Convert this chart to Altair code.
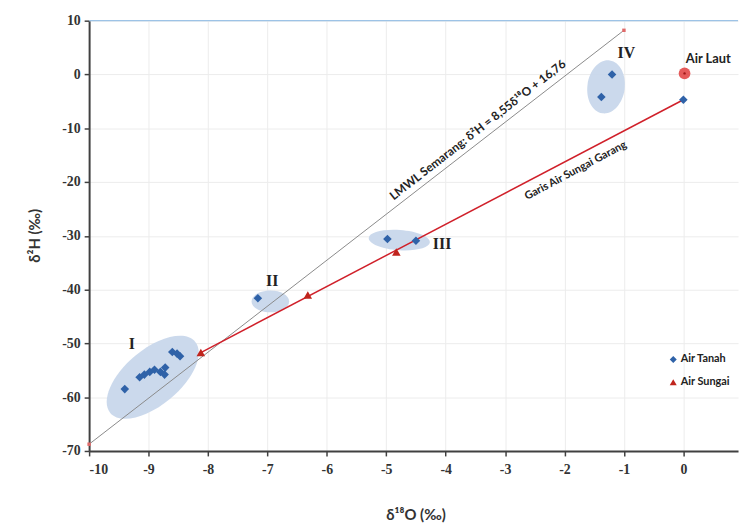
import altair as alt
import pandas as pd

# ---- data ----
tanah_x = [-9.40, -9.15, -9.07, -8.98, -8.90, -8.80, -8.73, -8.72, -8.60, -8.52, -8.47,
           -7.16, -4.98, -4.50, -1.38, -1.20, 0.0]
tanah_y = [-58.5, -56.3, -55.8, -55.3, -54.9, -55.3, -55.8, -54.5, -51.6, -51.9, -52.4,
           -41.6, -30.6, -30.9, -4.2, 0.0, -4.7]
sungai_x = [-8.12, -6.32, -4.83]
sungai_y = [-51.7, -41.0, -33.0]

lmwl_x = [-10.0, -1.0]
lmwl_y = [-68.74, 8.21]
garang_x = [-8.12, 0.0]
garang_y = [-51.7, -4.7]

laut_x = [0.02]
laut_y = [0.2]

# ellipses: centre x, centre y, semi-major px, minor/major ratio, angle
ell_names = ["I", "II", "III", "IV"]
ell_cx = [-8.93, -6.95, -4.78, -1.30]
ell_cy = [-56.3, -42.2, -30.8, -2.3]
ell_a = [56, 19, 31, 27]
ell_ratio = [0.50, 0.58, 0.33, 0.70]
ell_angle = [320, 0, 4, 98]

lab_text = ["I", "II", "III", "IV"]
lab_x = [-9.28, -6.92, -4.06, -0.96]
lab_y = [-50.1, -38.5, -31.6, 3.9]

lmwl_label = "LMWL Semarang: δ²H = 8,55δ¹⁸O + 16,76"
garang_label = "Garis Air Sungai Garang"

x_ticks = list(range(-10, 1))
y_ticks = list(range(-70, 11, 10))

# ---- styles ----
SANS = "Lato"
SERIF = "Liberation Serif"
AX = "#404040"

xscale = alt.Scale(domain=[-10, 0.92], nice=False, zero=False)
yscale = alt.Scale(domain=[-70, 10], nice=False, zero=False)

xaxis = alt.Axis(values=x_ticks, labelExpr="datum.value + ''", grid=True, gridColor="#ececec",
                 domainColor=AX, domainWidth=2, tickColor=AX, tickSize=5, tickWidth=1.5,
                 labelFont=SERIF, labelFontWeight=700, labelFontSize=14, labelColor="#333333",
                 labelPadding=7, title="δ¹⁸O (‰)", titleFont=SANS, titleFontSize=15,
                 titleFontWeight="bold", titleColor="#333333", titleX=330, titleY=64,
                 titleBaseline="middle", titleAlign="center")
yaxis = alt.Axis(values=y_ticks, labelExpr="datum.value + ''", grid=True, gridColor="#ececec",
                 domainColor=AX, domainWidth=2, tickColor=AX, tickSize=5, tickWidth=1.5,
                 labelFont=SERIF, labelFontWeight=700, labelFontSize=14, labelColor="#333333",
                 labelPadding=4, title="δ²H (‰)", titleFont=SANS, titleFontSize=15,
                 titleFontWeight="bold", titleColor="#333333", titleAngle=270, titleX=-55,
                 titleY=217, titleBaseline="middle", titleAlign="center")

X = alt.X("x:Q", scale=xscale, axis=xaxis)
Y = alt.Y("y:Q", scale=yscale, axis=yaxis)


def ellipse_path(r):
    k = 0.5523
    return (f"M-1,0C-1,{-k*r:.4f},{-k:.4f},{-r:.4f},0,{-r:.4f}"
            f"C{k:.4f},{-r:.4f},1,{-k*r:.4f},1,0"
            f"C1,{k*r:.4f},{k:.4f},{r:.4f},0,{r:.4f}"
            f"C{-k:.4f},{r:.4f},-1,{k*r:.4f},-1,0Z")


layers = []

# top blue border line
layers.append(alt.Chart(pd.DataFrame({"y": [10]})).mark_rule(color="#9dc3e6", strokeWidth=1.2)
              .encode(y=Y))

# ellipses
for n, cx, cy, a, r, ang in zip(ell_names, ell_cx, ell_cy, ell_a, ell_ratio, ell_angle):
    layers.append(
        alt.Chart(pd.DataFrame({"x": [cx], "y": [cy]}))
        .mark_point(shape=ellipse_path(r), filled=True, size=(2 * a) ** 2, angle=ang,
                    color="#c8d7eb", opacity=0.95, strokeWidth=0)
        .encode(x=X, y=Y)
    )

# LMWL line
lmwl_df = pd.DataFrame({"x": lmwl_x, "y": lmwl_y})
layers.append(alt.Chart(lmwl_df).mark_line(color="#8a8a8a", strokeWidth=1).encode(x=X, y=Y))
layers.append(alt.Chart(lmwl_df).mark_square(size=12, color="#e06a6a", opacity=1).encode(x=X, y=Y))

# Garang line
garang_df = pd.DataFrame({"x": garang_x, "y": garang_y})
layers.append(alt.Chart(garang_df).mark_line(color="#d0202a", strokeWidth=1.5).encode(x=X, y=Y))

# Air Laut
laut_df = pd.DataFrame({"x": laut_x, "y": laut_y})
layers.append(alt.Chart(laut_df).mark_circle(size=140, color="#e24848", opacity=0.9).encode(x=X, y=Y))
layers.append(alt.Chart(laut_df).mark_circle(size=6, color="#a01818", opacity=1).encode(x=X, y=Y))

# sample points with legend
pts = pd.DataFrame({
    "x": tanah_x + sungai_x,
    "y": tanah_y + sungai_y,
    "type": ["Air Tanah"] * len(tanah_x) + ["Air Sungai"] * len(sungai_x),
})
dom = ["Air Tanah", "Air Sungai"]
leg = alt.Legend(orient="none", legendX=585, legendY=337, title=None, labelFont=SANS,
                 labelFontWeight="bold", labelFontSize=11, labelColor="#222222",
                 symbolSize=50, rowPadding=11, padding=0, labelOffset=2, labelLimit=200)
layers.append(
    alt.Chart(pts).mark_point(filled=True, size=75, opacity=1)
    .encode(x=X, y=Y,
            color=alt.Color("type:N", scale=alt.Scale(domain=dom, range=["#2f62a8", "#c0251d"]), legend=leg),
            shape=alt.Shape("type:N", scale=alt.Scale(domain=dom, range=["diamond", "triangle-up"]), legend=leg))
)

# cluster labels
lab_df = pd.DataFrame({"x": lab_x, "y": lab_y, "t": lab_text})
layers.append(alt.Chart(lab_df).mark_text(font=SERIF, fontWeight="bold", fontSize=16, color="#222222")
              .encode(x=X, y=Y, text="t:N"))

layers.append(alt.Chart(pd.DataFrame({"x": [0.42], "y": [2.8], "t": ["Air Laut"]}))
              .mark_text(font=SANS, fontWeight="bold", fontSize=13, color="#222222")
              .encode(x=X, y=Y, text="t:N"))

# line annotations
layers.append(alt.Chart(pd.DataFrame({"x": [-3.46], "y": [-10.3], "t": [lmwl_label]}))
              .mark_text(font=SANS, fontWeight="bold", fontSize=12, color="#222222", angle=322)
              .encode(x=X, y=Y, text="t:N"))
layers.append(alt.Chart(pd.DataFrame({"x": [-1.81], "y": [-17.9], "t": [garang_label]}))
              .mark_text(font=SANS, fontWeight="bold", fontSize=11, color="#222222", angle=332)
              .encode(x=X, y=Y, text="t:N"))

chart = alt.layer(*layers).properties(
    width=656, height=435,
    autosize=alt.AutoSizeParams(type="none"),
    padding={"left": 82, "top": 10, "right": 2, "bottom": 70},
    background="white",
).configure_view(stroke=None)

chart.save("out.html", embed_options={"renderer": "svg", "actions": False})
